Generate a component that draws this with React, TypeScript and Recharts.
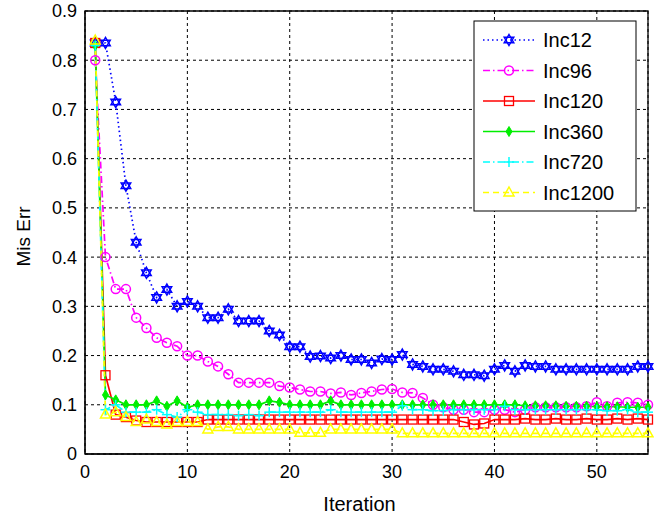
import { LineChart, Line, XAxis, YAxis, CartesianGrid, ReferenceArea } from "recharts"

const inc12 = [
  0.835, 0.835, 0.715, 0.545, 0.43, 0.368, 0.318, 0.334, 0.3, 0.31,
  0.3, 0.277, 0.277, 0.294, 0.27, 0.27, 0.27, 0.25, 0.242, 0.218,
  0.218, 0.198, 0.199, 0.195, 0.2, 0.192, 0.192, 0.185, 0.193, 0.192,
  0.202, 0.182, 0.178, 0.172, 0.172, 0.168, 0.161, 0.161, 0.159, 0.172,
  0.18, 0.168, 0.18, 0.178, 0.178, 0.172, 0.172, 0.172, 0.172, 0.172,
  0.172, 0.172, 0.172, 0.178, 0.178,
]
const inc96 = [
  0.8, 0.4, 0.335, 0.335, 0.277, 0.256, 0.236, 0.226, 0.219, 0.2,
  0.2, 0.188, 0.178, 0.162, 0.145, 0.145, 0.145, 0.145, 0.138, 0.135,
  0.131, 0.127, 0.127, 0.123, 0.125, 0.12, 0.124, 0.127, 0.131, 0.132,
  0.125, 0.124, 0.114, 0.1, 0.095, 0.09, 0.09, 0.085, 0.085, 0.09,
  0.09, 0.085, 0.09, 0.095, 0.095, 0.095, 0.095, 0.095, 0.097, 0.105,
  0.097, 0.104, 0.105, 0.104, 0.1,
]
const inc120 = [
  0.835, 0.16, 0.08, 0.075, 0.068, 0.065, 0.065, 0.065, 0.065, 0.065,
  0.065, 0.07, 0.07, 0.07, 0.07, 0.07, 0.07, 0.07, 0.07, 0.07,
  0.07, 0.07, 0.07, 0.07, 0.07, 0.07, 0.07, 0.07, 0.07, 0.07,
  0.07, 0.07, 0.07, 0.07, 0.07, 0.07, 0.065, 0.06, 0.062, 0.07,
  0.07, 0.07, 0.072, 0.07, 0.07, 0.072, 0.07, 0.07, 0.072, 0.07,
  0.07, 0.072, 0.07, 0.072, 0.07,
]
const inc360 = [
  0.83, 0.12, 0.11, 0.1, 0.1, 0.1, 0.108, 0.097, 0.108, 0.095,
  0.1, 0.1, 0.1, 0.1, 0.1, 0.1, 0.1, 0.108, 0.105, 0.1,
  0.1, 0.1, 0.1, 0.108, 0.1, 0.1, 0.1, 0.1, 0.1, 0.1,
  0.1, 0.1, 0.1, 0.1, 0.1, 0.1, 0.1, 0.1, 0.1, 0.1,
  0.1, 0.1, 0.098, 0.098, 0.098, 0.098, 0.097, 0.097, 0.097, 0.096,
  0.096, 0.096, 0.095, 0.095, 0.095,
]
const inc720 = [
  0.83, 0.09, 0.1, 0.085, 0.085, 0.085, 0.09, 0.08, 0.075, 0.09,
  0.085, 0.08, 0.08, 0.08, 0.078, 0.08, 0.078, 0.085, 0.085, 0.085,
  0.085, 0.085, 0.085, 0.09, 0.085, 0.085, 0.085, 0.085, 0.085, 0.085,
  0.098, 0.09, 0.09, 0.088, 0.088, 0.09, 0.09, 0.09, 0.09, 0.09,
  0.097, 0.09, 0.09, 0.09, 0.09, 0.09, 0.09, 0.09, 0.09, 0.09,
  0.088, 0.088, 0.09, 0.085, 0.085,
]
const inc1200 = [
  0.84, 0.08, 0.085, 0.075, 0.065, 0.07, 0.065, 0.06, 0.065, 0.065,
  0.065, 0.05, 0.055, 0.055, 0.05, 0.05, 0.05, 0.05, 0.05, 0.05,
  0.043, 0.043, 0.043, 0.05, 0.05, 0.05, 0.05, 0.05, 0.05, 0.05,
  0.042, 0.042, 0.042, 0.042, 0.042, 0.042, 0.042, 0.042, 0.042, 0.042,
  0.042, 0.042, 0.042, 0.042, 0.042, 0.042, 0.042, 0.042, 0.042, 0.042,
  0.042, 0.042, 0.042, 0.042, 0.042,
]

const xTicks = [0, 10, 20, 30, 40, 50]
const yTicks = [0, 0.1, 0.2, 0.3, 0.4, 0.5, 0.6, 0.7, 0.8, 0.9]

const series = [
  { key: "Inc12", values: inc12, color: "#0000ff", dash: "1.5 3", marker: "hexagram" },
  { key: "Inc96", values: inc96, color: "#ff00ff", dash: "7 3 1.5 3", marker: "circle" },
  { key: "Inc120", values: inc120, color: "#ff0000", dash: undefined, marker: "square" },
  { key: "Inc360", values: inc360, color: "#00ee00", dash: undefined, marker: "diamond" },
  { key: "Inc720", values: inc720, color: "#00ffff", dash: "7 3 1.5 3", marker: "plus" },
  { key: "Inc1200", values: inc1200, color: "#ffff00", dash: "6 4", marker: "triangle" },
]

const data = inc12.map((_, i) => {
  const row: Record<string, number> = { iter: i + 1 }
  series.forEach((s) => (row[s.key] = s.values[i]))
  return row
})

const FONT = "'Liberation Sans', Arial, sans-serif"

function Marker({ type, cx, cy, color }: { type: string; cx: number; cy: number; color: string }) {
  const r = 5.5
  if (type === "hexagram") {
    const h = 0.866 * r
    return (
      <g fill="none" stroke={color} strokeWidth={1.5}>
        <polygon points={`${cx},${cy - r} ${cx + h},${cy + r / 2} ${cx - h},${cy + r / 2}`} />
        <polygon points={`${cx},${cy + r} ${cx + h},${cy - r / 2} ${cx - h},${cy - r / 2}`} />
      </g>
    )
  }
  if (type === "circle") return <circle cx={cx} cy={cy} r={4.5} fill="none" stroke={color} strokeWidth={1.5} />
  if (type === "square") return <rect x={cx - 4.5} y={cy - 4.5} width={9} height={9} fill="none" stroke={color} strokeWidth={1.3} />
  if (type === "diamond")
    return <polygon points={`${cx},${cy - 5} ${cx + 3},${cy} ${cx},${cy + 5} ${cx - 3},${cy}`} fill={color} stroke={color} />
  if (type === "plus")
    return (
      <g stroke={color} strokeWidth={1.5}>
        <line x1={cx - 5} y1={cy} x2={cx + 5} y2={cy} />
        <line x1={cx} y1={cy - 5} x2={cx} y2={cy + 5} />
      </g>
    )
  return (
    <polygon
      points={`${cx},${cy - 5.5} ${cx + 5},${cy + 3.5} ${cx - 5},${cy + 3.5}`}
      fill="none"
      stroke={color}
      strokeWidth={1.5}
    />
  )
}

function LegendBox() {
  return (
    <svg width={164} height={192} style={{ position: "absolute", left: 473, top: 20 }}>
      <rect x={1} y={1} width={162} height={190} fill="#fff" stroke="#000" strokeWidth={1} />
      {series.map((s, i) => {
        const y = 20 + i * 30.5
        return (
          <g key={s.key}>
            <line x1={10} y1={y} x2={62} y2={y} stroke={s.color} strokeWidth={1.5} strokeDasharray={s.dash} />
            <Marker type={s.marker} cx={36} cy={y} color={s.color} />
            <text x={70} y={y + 7} fontSize={20} fontFamily={FONT} fill="#000">
              {s.key}
            </text>
          </g>
        )
      })}
    </svg>
  )
}

const XLabel = (props: any) => {
  const vb = props.viewBox
  return (
    <text x={vb.x + vb.width / 2 - 7} y={511} textAnchor="middle" fontSize={20} fontFamily={FONT} fill="#000">
      Iteration
    </text>
  )
}

const YLabel = (props: any) => {
  const vb = props.viewBox
  const cy = vb.y + vb.height / 2 + 4
  return (
    <text x={30} y={cy} transform={`rotate(-90 30 ${cy})`} textAnchor="middle" fontSize={19} fontFamily={FONT} fill="#000">
      Mis Err
    </text>
  )
}

export default function App() {
  return (
    <div style={{ position: "absolute", left: 0, top: 0, width: 654, height: 515, background: "#fff" }}>
      <LineChart width={654} height={515} data={data} margin={{ top: 11, right: 6, left: 0, bottom: 0 }}>
        <CartesianGrid stroke="#000" strokeDasharray="3 3" />
        <XAxis
          dataKey="iter"
          type="number"
          domain={[0, 55]}
          ticks={xTicks}
          height={61}
          tickSize={0}
          tickMargin={11}
          axisLine={{ stroke: "#000" }}
          tick={{ fill: "#000", fontSize: 18, fontFamily: FONT }}
          label={<XLabel />}
        />
        <YAxis
          type="number"
          domain={[0, 0.9]}
          ticks={yTicks}
          width={85}
          tickSize={0}
          tickMargin={8}
          axisLine={{ stroke: "#000" }}
          tick={{ fill: "#000", fontSize: 18, fontFamily: FONT }}
          label={<YLabel />}
        />
        <ReferenceArea x1={0} x2={55} y1={0} y2={0.9} fill="none" stroke="#000" strokeWidth={1.3} />
        {series.map((s) => (
          <Line
            key={s.key}
            dataKey={s.key}
            stroke={s.color}
            strokeWidth={1.7}
            strokeDasharray={s.dash}
            isAnimationActive={false}
            dot={(p: any) => <Marker key={`${s.key}-${p.index}`} type={s.marker} cx={p.cx} cy={p.cy} color={s.color} />}
            activeDot={false}
          />
        ))}
      </LineChart>
      <LegendBox />
    </div>
  )
}
